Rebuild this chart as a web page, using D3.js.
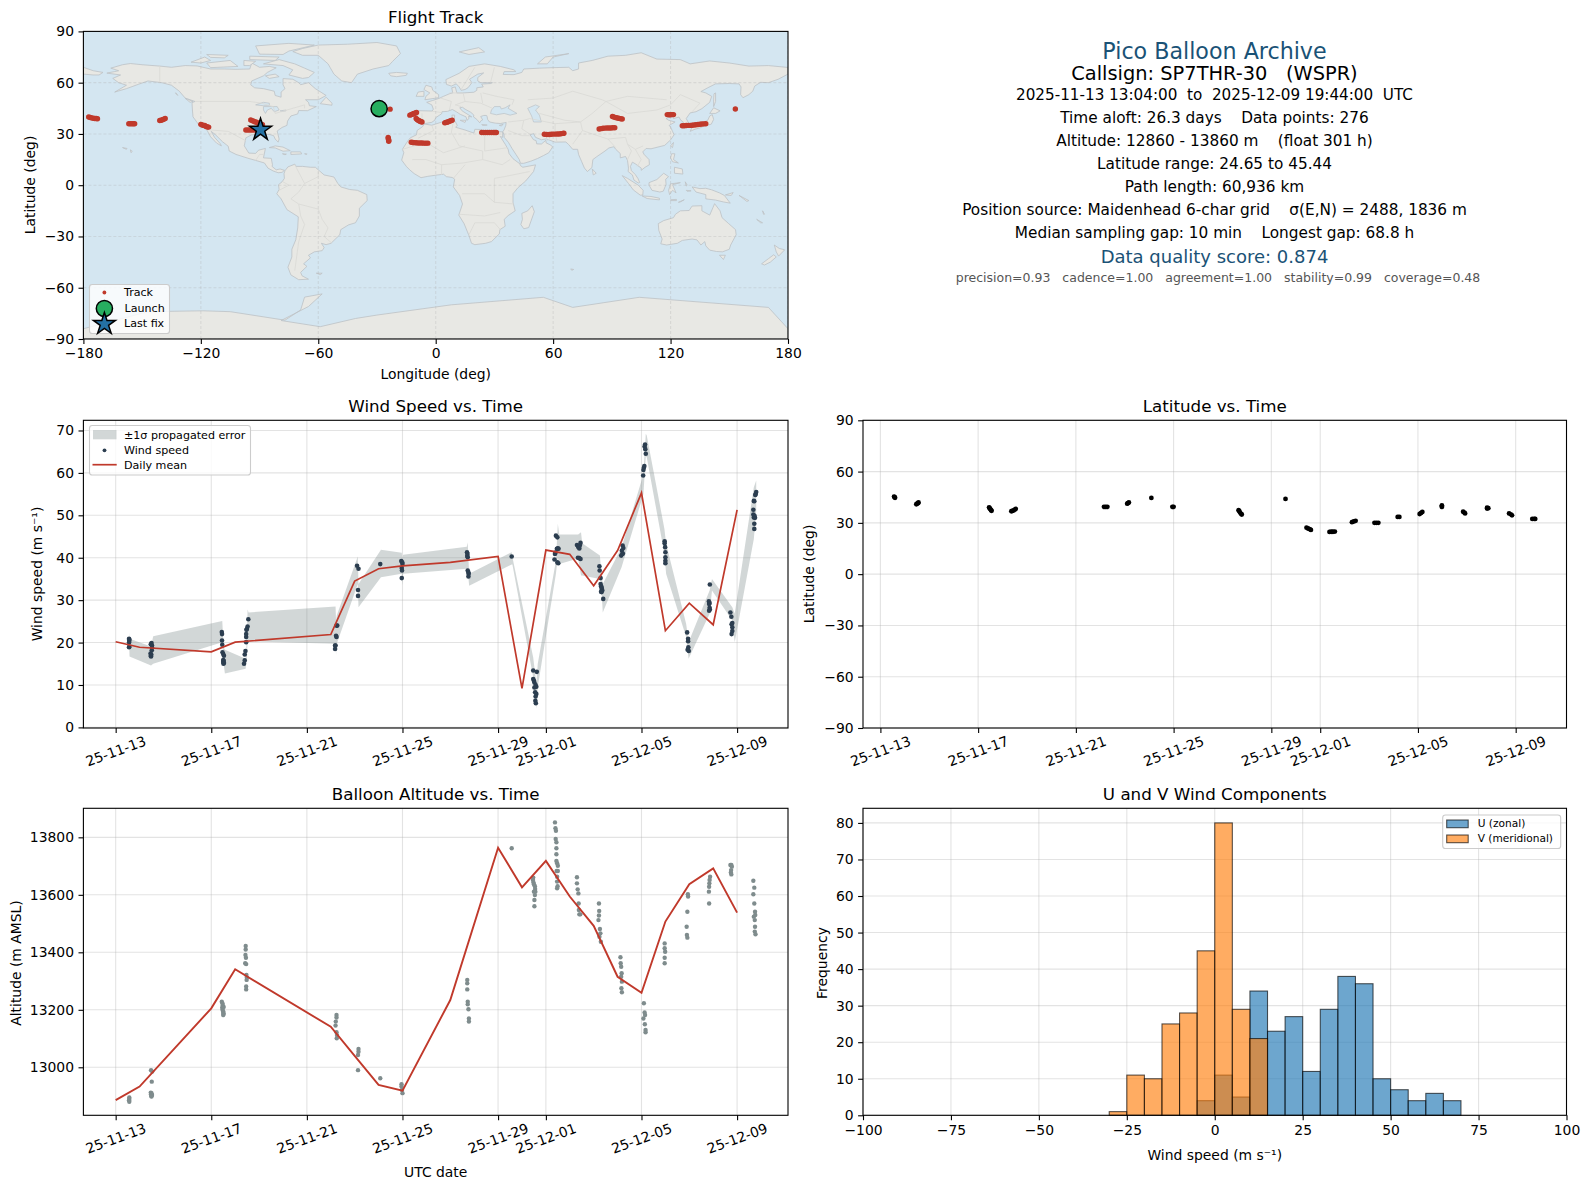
<!DOCTYPE html>
<html><head><meta charset="utf-8">
<script src="https://cdn.jsdelivr.net/npm/d3@7/dist/d3.min.js"></script>
<style>
html,body{margin:0;padding:0;background:#fff}
svg{display:block}
text{font-family:"DejaVu Sans",sans-serif;white-space:pre}
</style></head><body><svg id="c" width="1590" height="1189"></svg>
<script>
// ---------- tick labels ----------
const timeTickDates=["2025-11-13","2025-11-17","2025-11-21","2025-11-25","2025-11-29","2025-12-01","2025-12-05","2025-12-09"];
const lonTicks=[-180,-120,-60,0,60,120,180];
const latTicks=[-90,-60,-30,0,30,60,90];
const windTicks=[0,10,20,30,40,50,60,70];
const altTicks=[13000,13200,13400,13600,13800];
const histXTicks=[-100,-75,-50,-25,0,25,50,75,100];
const histYTicks=[0,10,20,30,40,50,60,70,80];

// ---------- series: values are [days after 2025-11-13 00:00 UTC, value] ----------
const windPoints=[[.56,20.9],[.57,20.7],[.57,20.4],[.56,20.0],[.56,18.9],[.57,19.0],
[1.50,19.9],[1.47,19.6],[1.52,19.3],[1.52,18.8],[1.51,18.2],[1.46,17.4],[1.49,17.2],[1.47,16.9],[1.48,16.7],
[4.44,22.5],[4.45,22.0],[4.45,20.5],[4.46,19.5],[4.47,17.7],[4.50,17.3],[4.53,16.9],[4.50,15.9],[4.52,15.7],[4.50,15.4],[4.53,15.2],[4.51,15.0],
[5.37,15],[5.40,15.8],[5.40,17.2],[5.43,18],[5.46,20.1],[5.46,21.3],[5.46,22],[5.49,23.2],[5.52,23.8],[5.47,23.0],[5.55,25.5],
[9.18,19.3],[9.18,18.5],[9.20,19.3],[9.24,24],[9.22,21.6],[9.24,21.3],[9.27,24],
[10.10,38.1],[10.16,37.4],[10.14,32.4],[10.14,31],
[11.07,38.5],
[11.95,39.2],[11.99,38.9],[12.0,38.5],[11.97,37.6],[11.98,37],[11.97,35.2],
[14.70,41.3],[14.72,40.9],[14.71,40.4],[14.73,40.1],[14.73,37],[14.76,36.5],[14.77,36.2],[14.76,35.6],
[16.57,40.3],
[17.47,13.4],[17.62,13.1],[17.47,11.4],[17.5,11.0],[17.52,10.6],[17.57,10.0],[17.6,9.6],[17.55,8.3],[17.6,7.9],[17.57,7.3],[17.56,6.3],[17.58,5.7],[17.52,9.4],
[18.42,45.2],[18.48,44.8],[18.46,42.1],[18.53,42.1],[18.50,42.2],[18.38,40.9],[18.40,41.2],[18.36,39.6],[18.52,38.7],[18.48,38.9],
[19.30,43],[19.36,42.5],[19.40,42.2],[19.42,42.9],[19.45,43.5],[19.34,40],[19.40,39.9],[19.45,39.7],
[20.24,38],[20.25,37],[20.29,35.2],[20.29,33.8],[20.31,33.3],[20.33,33],[20.34,32.6],[20.36,32.3],[20.31,32],[20.33,31.9],[20.40,30.3],
[21.21,42.9],[21.24,42.3],[21.18,41.7],[21.20,40.9],[21.15,40.5],[21.22,41],
[22.1,61.2],[22.12,61.6],[22.08,60.7],[22.07,59.4],[22.15,66.7],[22.13,66.2],[22.16,65.6],[22.18,64.5],
[22.97,43.9],[22.97,43.4],[22.99,42.5],[23,41.3],[23,40.1],[23,39.3],[23,38.7],
[23.91,22.4],[23.95,20.9],[23.95,20.3],[23.96,18.9],[23.93,18.3],[23.98,18.0],
[24.86,33.7],[24.82,29.7],[24.85,29.3],[24.83,29.1],[24.85,28.2],[24.83,27.5],[24.86,27.8],
[25.72,27.1],[25.76,26.1],[25.8,24.6],[25.77,24.3],[25.8,23.6],[25.8,22.7],[25.77,22],
[26.68,50.2],[26.70,49.5],[26.68,51.3],[26.70,53.4],[26.72,53.3],[26.78,55],[26.8,55.5],[26.76,54.8],[26.73,49.9],[26.75,49.4],[26.72,48],[26.72,46.8]];

const windMeanDays=[0,1,4,5,9,10,11,12,14,16,17,18,19,20,21,22,23,24,25,26];
const windMeanValues=[20.2,18.9,17.8,20.1,21.9,34.5,37.4,38.1,38.9,40.3,9.2,41.8,40.8,33.4,41.7,55.3,22.8,29.3,24.2,51.3];

// ±1σ envelope: day, low, high
const bandDays=[.56,.58,1.48,1.57,4.46,4.52,4.57,5.44,5.48,5.52,5.56,9.2,9.22,9.25,10.13,10.16,11.1,11.97,11.99,12.03,14.69,14.73,14.79,16.57,16.6,17.47,17.6,17.66,18.42,18.5,18.56,19.35,19.47,19.52,20.26,20.3,20.38,21.17,22.08,22.18,22.22,22.96,23.03,23.87,23.97,24.85,24.95,25.8,25.9,26.7,26.8];
const bandLow=[20.5,16.7,14.6,15,20.1,14.8,12.7,13.8,16.5,20.3,20.3,19.7,17.1,19.7,33.8,28.3,35.4,36.2,33.6,36.2,37.4,37.1,33.4,38.4,38.4,11.8,4.4,9.5,36.2,40.1,38.5,39.8,35.8,35.8,35,35,27.1,37.8,55,64,63.7,40.9,36.2,21.3,16.2,26.8,32.3,25.2,20.1,44.4,51.1];
const bandHigh=[22.4,20.9,19.1,21.5,25.1,18.9,18.3,16.2,19.7,27.8,27.1,28.5,25.2,26.4,40.3,33.8,41.9,41.2,39.7,40.7,42.6,43.6,36.2,41.3,40.1,16.5,10.3,15,39.3,48,45.5,45.5,46,43.4,40.5,37.8,33.8,42.5,59.7,69.2,68.8,46.8,43.3,24.4,20.1,32.3,35,28.3,26.8,56.6,58.2];

const altPoints=[[.57,12895],[.57,12890],[.56,12885],[.57,12880],
[1.48,12990],[1.53,12985],[1.51,12950],[1.47,12912],[1.5,12910],[1.48,12906],[1.52,12904],[1.49,12900],[1.5,12898],
[4.44,13228],[4.47,13222],[4.48,13215],[4.46,13208],[4.47,13200],[4.5,13195],[4.5,13190],[4.52,13186],[4.5,13182],[4.52,13210],
[5.44,13422],[5.44,13410],[5.43,13391],[5.45,13381],[5.42,13362],[5.46,13359],[5.47,13321],[5.49,13312],[5.48,13304],[5.46,13281],[5.46,13271],
[9.24,13182],[9.24,13173],[9.21,13159],[9.2,13145],[9.24,13122],[9.26,13112],[9.25,13101],
[10.16,13064],[10.16,13054],[10.14,13043],[10.14,12990],
[11.07,12962],
[11.96,12941],[11.96,12933],[11.98,12921],[12.0,12910],
[14.71,13304],[14.71,13292],[14.71,13271],[14.73,13228],[14.73,13219],[14.76,13202],[14.78,13170],[14.78,13159],
[16.57,13762],
[17.47,13660],[17.46,13652],[17.48,13643],[17.5,13637],[17.54,13630],[17.55,13620],[17.5,13611],[17.56,13611],[17.54,13599],[17.52,13582],[17.52,13560],
[18.38,13852],[18.4,13832],[18.42,13823],[18.41,13794],[18.44,13783],[18.44,13762],[18.44,13741],[18.44,13718],[18.47,13710],[18.5,13701],[18.45,13683],[18.5,13683],[18.47,13663],[18.47,13646],[18.47,13623],[18.49,13630],
[19.3,13661],[19.3,13640],[19.33,13619],[19.36,13605],[19.37,13570],[19.38,13547],[19.4,13532],[19.44,13532],
[20.22,13570],[20.23,13544],[20.22,13528],[20.2,13512],[20.26,13481],[20.28,13466],[20.24,13454],[20.3,13437],
[21.12,13383],[21.13,13362],[21.15,13350],[21.17,13327],[21.15,13315],[21.18,13298],[21.16,13275],[21.18,13261],
[22.1,13223],[22.13,13191],[22.15,13182],[22.08,13170],[22.14,13150],[22.17,13130],[22.17,13122],
[22.97,13431],[22.97,13414],[22.99,13402],[22.97,13381],[22.97,13362],
[23.94,13602],[23.95,13594],[23.92,13541],[23.89,13489],[23.9,13460],[23.92,13451],
[24.87,13663],[24.85,13652],[24.84,13640],[24.83,13628],[24.82,13611],[24.83,13570],
[25.72,13704],[25.76,13704],[25.78,13698],[25.75,13686],[25.74,13678],[25.76,13671],
[26.68,13649],[26.72,13625],[26.68,13602],[26.72,13570],[26.75,13541],[26.76,13530],[26.7,13524],[26.74,13512],[26.75,13489],[26.74,13472],[26.77,13463]];

const altMeanDays=[0,1,4,5,9,10,11,12,14,16,17,18,19,20,21,22,23,24,25,26];
const altMeanValues=[12886,12933,13205,13341,13141,13040,12939,12919,13234,13764,13626,13718,13594,13492,13315,13259,13507,13637,13692,13538];

const latPoints=[[.56,45.4],[.58,45.0],[.6,44.7],
[1.47,40.9],[1.5,41.2],[1.54,41.5],[1.56,41.9],
[4.45,39.1],[4.47,38.6],[4.5,38.0],[4.53,37.4],[4.55,37.1],
[5.36,36.8],[5.4,37.0],[5.45,37.3],[5.5,37.8],[5.54,38.2],
[9.15,39.4],[9.22,39.4],[9.29,39.4],
[10.1,41.2],[10.13,41.5],[10.17,41.9],
[11.09,44.6],
[11.95,39.4],[12.0,39.4],
[14.66,37.4],[14.69,36.8],[14.72,36.0],[14.76,35.3],[14.79,34.9],
[16.58,44.0],
[17.44,27.2],[17.5,26.7],[17.57,26.3],[17.62,25.9],
[18.38,24.7],[18.45,24.8],[18.52,24.8],[18.6,24.9],
[19.3,30.4],[19.37,30.8],[19.45,31.2],
[20.22,30],[20.3,30],[20.38,30],
[21.17,33.5],[21.24,33.5],
[22.07,35.2],[22.13,35.8],[22.18,36.4],
[22.98,39.8],[22.98,39.3],[22.98,40.2],
[23.85,36.5],[23.9,36],[23.93,35.5],
[24.83,38.9],[24.88,38.6],[24.83,38.4],
[25.73,35.5],[25.8,35],[25.85,34.4],
[26.68,32.3],[26.76,32.3],[26.8,32.3]];

const trackPoints=[[-177.3,39.9],[-176.5,39.6],[-175.8,39.4],[-175,39.2],[-174.2,39],[-173.5,39],[-172.8,38.9],
[-156.8,36],[-156,36],[-155.2,36],[-154.5,36],[-153.8,36],
[-141,37.9],[-140.3,38],[-139.6,38.3],[-139,38.6],[-138.2,39],
[-120,35.6],[-119.3,35.3],[-118.6,35],[-118,34.9],[-117.3,34.4],[-116.6,34.1],[-116,34],
[-94.5,38.2],[-93.8,37.8],[-93,37.4],[-92.2,37],[-91.5,36.8],[-90.7,36.3],[-90,36],[-89.2,35.7],[-88.5,35.4],
[-97,32.3],[-96,32.3],[-95,32.3],[-94,32.3],[-93,32.3],[-92,32.4],[-91,32.4],[-90.2,32.3],[-89.5,32.3],
[-23.3,44.5],
[-13.2,41],[-12.5,41.3],[-12,41.5],[-11.4,41.8],[-11,42],[-10.4,42.3],[-9.8,42.5],
[-10,39],[-9.5,38.5],[-9,38],[-8.5,37.7],[-8,37.4],[-7.5,37.2],[-7,37],
[-24.3,28],[-24.2,27.4],[-24.1,26.8],[-24,26.2],[-24,25.7],
[-12.5,25.1],[-11.7,25],[-11,24.9],[-10,24.8],[-9,24.7],[-8,24.7],[-7,24.7],[-6,24.6],[-5,24.6],[-4,24.6],
[4.6,36.5],[5.2,36.7],[5.8,36.9],[6.4,37.1],[7,37.4],[7.7,37.7],[8.4,38],
[23.5,30.8],[24.5,30.8],[25.5,30.8],[26.5,30.8],[27.5,30.8],[28.5,30.8],[29.5,30.8],[30.3,30.8],[31,30.8],
[55.5,29.8],[56.7,29.7],[58,29.7],[59,29.8],[60,29.9],[61,29.9],[62,30],[63,30],[64,30.1],[65,30.3],[65.5,30.4],
[83.5,32.9],[84.5,33.1],[85.5,33.3],[86.5,33.4],[87.5,33.5],[88.5,33.5],[89.5,33.5],[90.5,33.6],[91.5,33.6],
[90.3,40.2],[90.9,40],[91.5,39.7],[92.2,39.5],[93,39.3],[93.8,39.1],[94.5,38.9],[95.3,38.7],
[118.3,41.3],[119.2,41.2],[120,41.2],[120.8,41.3],[121.5,41.3],
[126,34.8],[127,34.8],[128,34.9],[129,35],[130,35],[131,35.1],[132,35.2],[133,35.4],[134,35.5],[135,35.7],[136,35.8],[137,35.9],[138,36],
[153.1,44.6]];
const launchPoint=[-28.9,44.8];
const lastFixPoint=[-89.5,32.4];

const histBinStart=-30, histBinWidth=5;
const uCounts=[0,0,0,0,0,4,11,5,34,23,27,12,29,38,36,10,7,4,6,4];
const vCounts=[1,11,10,25,28,45,80,29,21,0,0,0,0,0,0,0,0,0,0,0];

const infoLines=[
 ["Pico Balloon Archive",52,22.2,"#1a5276"],
 ["Callsign: SP7THR-30   (WSPR)",74.5,19.4,"#000"],
 ["2025-11-13 13:04:00  to  2025-12-09 19:44:00  UTC",95,15.2,"#000"],
 ["Time aloft: 26.3 days    Data points: 276",118,15.3,"#000"],
 ["Altitude: 12860 - 13860 m    (float 301 h)",141,15.3,"#000"],
 ["Latitude range: 24.65 to 45.44",164,15.3,"#000"],
 ["Path length: 60,936 km",187,15.3,"#000"],
 ["Position source: Maidenhead 6-char grid    σ(E,N) = 2488, 1836 m",210.5,15.3,"#000"],
 ["Median sampling gap: 10 min    Longest gap: 68.8 h",233.5,15.3,"#000"],
 ["Data quality score: 0.874",258,18,"#1a5276"],
 ["precision=0.93   cadence=1.00   agreement=1.00   stability=0.99   coverage=0.48",278.5,12.5,"#555"]];

// ---------- map outlines, lon/lat ----------
const landPolygons=[
[[-168,65.6],[-164,66.5],[-162,67],[-166,68.5],[-160,70.5],[-156,71.2],[-150,70.5],[-141,69.7],[-135,69],[-128,70],[-122,69.8],[-115,68],[-108,68],[-102,67.8],[-95,68],[-94,71.5],[-90,69],[-85,69.5],[-81.5,68.7],[-86,66],[-88,64],[-94,61],[-94.5,58.7],[-92.5,57],[-88,56.5],[-82.5,55],[-82,52.5],[-79,51.5],[-79,54.5],[-77,56.5],[-78,58.8],[-78,62.4],[-73,62],[-70,60],[-69,58.8],[-65,60],[-61.5,56.5],[-56,52.5],[-60,50],[-66.5,50],[-65,48.5],[-64.5,46.5],[-61,46],[-65.5,43.6],[-70,43.7],[-70.5,41.7],[-74,40.5],[-75.7,37.5],[-76,35],[-78.5,33.8],[-81,31.7],[-80,27],[-80.5,25.2],[-82,27],[-82.8,29],[-85,29.7],[-89,30],[-91.5,29.5],[-94,29.5],[-97,27.7],[-97.8,23],[-95.5,18.8],[-92,18.6],[-90.5,20.5],[-87,21.5],[-88,16],[-84,15.7],[-83.4,12],[-83.6,11],[-81.5,9],[-79.5,9.5],[-77.3,8.7],[-78.5,7.5],[-80.5,7.3],[-83,8.3],[-85.7,10],[-87.5,13],[-92,14.5],[-96,15.8],[-102,18],[-105.5,20],[-106,22.8],[-109,25.5],[-112.5,29.5],[-114.7,31.5],[-113,28],[-110,24.2],[-109.5,23],[-112,24.7],[-115,28.3],[-117,32.5],[-120.5,34.5],[-124,40],[-124.3,44],[-124.5,48.3],[-123,49],[-128,51],[-131,55],[-135,58.5],[-140,60],[-147,61],[-152,59],[-158,56.5],[-164,54.5],[-158,58.5],[-162,60],[-165,62.5],[-161,64.5]],
[[-73,78.2],[-68,80],[-60,82],[-45,82.5],[-30,83.5],[-20,81.5],[-18,77],[-22,72.5],[-24,70],[-32,68],[-40,65],[-43,60],[-48,61],[-52,65],[-54,69],[-55,71],[-60,76],[-68,76]],
[[-80,73.5],[-72,71],[-67,68.5],[-62,66],[-65,63],[-68,62.5],[-75,64.5],[-73,67.5],[-78,70],[-88,71]],
[[-117,71.5],[-105,73],[-101,69.5],[-115,68.8]],
[[-90,76.7],[-78,76.5],[-75,78.5],[-62,82],[-75,83],[-92,81.5]],
[[-125,72],[-118,75],[-115,73],[-120,71.5]],
[[-95,75.5],[-80,75],[-82,73],[-95,73.5]],
[[-117,76.5],[-106,76],[-108,74.5],[-115,74.8]],
[[-98,73],[-92,72.5],[-95,70],[-98,70]],[[-82,65],[-80,63.5],[-85,62.5],[-87,64]],
[[-59,47.7],[-56,51.5],[-53,48],[-53,46.8]],
[[-85,22],[-82,23],[-78,22.3],[-74.3,20.2],[-78,19.9],[-82,21.8]],
[[-74,19.5],[-69,19.5],[-68.5,18.3],[-74,18]],[[-78.3,18.4],[-76.3,18.2],[-77,17.8]],[[-67,18.4],[-65.7,18.3],[-66,18]],
[[-128,50.8],[-124,49],[-125.5,48.5]],[[-133,54],[-131.8,52.5],[-132.5,53.8]],
[[-24,65.5],[-20,66],[-14.5,65.5],[-15,64.3],[-20,63.5],[-23,64]],
[[-5.5,50],[1.5,51.2],[1.5,53],[-1.5,55.5],[-2,57.5],[-5,58.5],[-6,56],[-3,54],[-5,52]],
[[-10,52],[-6,52],[-6,55],[-9,54.5]],
[[-77,8.5],[-75.5,10.7],[-72,12.3],[-71.3,11],[-68,11],[-64,10.5],[-61.5,10.5],[-57,6],[-52,4.8],[-50,1],[-48.5,-1],[-44,-2.5],[-40,-3],[-35.2,-5.5],[-35,-9],[-39,-13.5],[-39,-18],[-41,-22],[-44.5,-23.2],[-48.5,-26],[-49,-29],[-53.5,-34],[-56,-34.8],[-58.4,-34],[-57,-36.5],[-58,-38.3],[-62,-39],[-65,-41],[-64,-42.5],[-67.5,-46],[-65.8,-47.5],[-69,-51],[-68.3,-53],[-65,-55],[-70,-55.3],[-74,-52.5],[-75.5,-48],[-73.5,-42],[-73.5,-37.5],[-71.5,-32],[-70.5,-25],[-70.2,-18.5],[-76,-14.3],[-79,-8],[-81.2,-5],[-80,-2.5],[-80.3,0.3],[-78.5,2],[-77.3,4],[-77.5,6.7]],
[[-5.8,35.8],[-2,35.1],[3,36.9],[10,37.3],[11,35],[10.2,33.9],[15,32.3],[19.5,30.5],[20,32.7],[23,32.6],[25.3,31.6],[29,30.9],[32.3,31.3],[34.2,31.2],[34.2,28],[33,28.5],[35.5,24],[37,21],[37.5,18.5],[39.5,15.5],[43,12.5],[43.3,11.5],[44.5,10.5],[51,11.9],[50,8],[46,2.5],[42,-1.5],[39.5,-5],[39.5,-10],[40.6,-15],[37,-17.8],[35,-20],[35.5,-24],[32.8,-26],[32.5,-28.5],[28.5,-33],[25.5,-34],[20,-34.8],[18.3,-34],[17,-29.5],[14.5,-22.5],[11.8,-17.5],[13.7,-11],[12.2,-6],[9,-1],[9.7,3.5],[8.5,4.5],[5.5,5],[4,6.4],[1,6],[-4,5.2],[-7.5,4.4],[-11,6.8],[-13.3,9],[-15,11],[-17.4,14.7],[-16.3,19],[-17,21],[-14.8,25],[-13,27.7],[-9.8,29.5],[-9.5,32],[-6.8,34.2]],
[[49.3,-12],[50.4,-15.5],[47.5,-24.8],[45,-25.5],[43.5,-23],[44.3,-20],[44,-16.5],[47,-15]],
[[-9,37],[-7.5,37],[-6,36.2],[-5.3,36.1],[-2,36.8],[-0.5,38],[0,39.5],[3,41.8],[3.2,43],[6,43.2],[8.5,44.3],[10.5,43],[12.5,41.5],[15.5,40],[16,38],[17,39],[16.8,40.3],[18.4,40],[16,41.7],[13.5,43.5],[12.3,45.3],[13.7,45.6],[15,44.5],[18,42.6],[19.5,41],[19.3,40],[21,38.5],[22.5,36.5],[23.2,37.8],[24,38.2],[23,40.2],[24.5,40.8],[26,40.8],[26.3,40],[26.5,38.5],[27.5,37],[30.5,36.3],[33,36.1],[36,36.7],[35.8,35],[35,32.5],[34.3,31.3],[34.9,29.5],[35,28],[37.2,25],[39,21.5],[41,18],[42.7,15],[43.3,12.8],[45,12.8],[48.5,14],[52,15.6],[55,17.3],[57.8,19],[59.8,22.5],[58.5,23.6],[56.4,24.8],[56.3,26.3],[55.3,25.3],[54,24.1],[51.6,24.2],[51.3,26.1],[50,26.6],[48.2,29.5],[50,30.2],[51,28],[54,26.6],[56.5,27.1],[61,25.2],[66.5,25.3],[68,23.7],[70,21],[72.5,21],[73,18],[74.5,14],[76,10],[77.5,8],[79.8,10.3],[80.3,15],[82.3,16.7],[86.5,20],[88.5,21.8],[91,22.5],[92,21],[94.3,18.5],[94.3,16],[97,16.8],[98,14.5],[98.5,10],[98.3,8],[100.5,6],[101.3,3],[103.5,1.3],[104.2,1.6],[103.3,4],[102,6.2],[100,8.5],[99.5,11],[100.5,13.5],[102,12.5],[105,10],[105,8.7],[107,10.5],[109.2,12],[109,15],[106.5,18],[105.8,19.5],[107.5,21.5],[110,21.3],[113.5,22.3],[117,23.3],[120,26.5],[121.8,29.5],[121,31.5],[120,34],[119.3,35],[122.3,37],[119,38],[117.7,39],[121,40.8],[121.5,39],[124.3,39.9],[125.2,38],[126.5,37],[126.3,34.7],[128.5,35],[129.4,36],[128,39],[130,42.3],[133,43],[136,44.8],[140,48.5],[141,52],[138,54],[135.5,54.8],[139,57],[143,59.3],[150,59.5],[155,59.3],[156,57.5],[155.8,53],[157,51.2],[160,53],[162,55],[163,58],[166,60.2],[170,60],[175,62],[180,65],[180,68.9],[170,70],[160,69.7],[150,71.5],[140,72.7],[130,71],[125,73.5],[113,73.8],[105,77.5],[97,76],[88,75.5],[80,73],[73,71.5],[73,68],[70,67],[68,69],[60,68.8],[53,68.5],[45,68],[44,66],[40,64.7],[34.5,64.8],[35,66.5],[41,66.5],[40,67.5],[33,69.5],[25,71],[17,69.5],[12,65.5],[5.2,61.8],[5.5,59],[8,58],[10.5,59.3],[12,57.5],[13,55.5],[15,56],[16.5,57],[18.5,60],[17.3,62],[21.5,65],[24.5,65.7],[21.5,63],[21.5,61],[23,60],[29,60],[28,59.5],[23.5,59.2],[24.3,57.5],[21,57],[21,55.5],[19.5,54.4],[14,54],[10.8,54],[10,57.5],[8.2,57],[8.7,54],[7,53.5],[4,52],[1.7,50.8],[-1.5,49.6],[-4.6,48.5],[-2,47],[-1.2,44.5],[-1.8,43.4],[-8.5,43.6],[-9.3,41],[-9.5,38.7]],
[[-180,65],[-175,64.5],[-172,64.5],[-170,66],[-175,67],[-180,69]],
[[113.7,-22.5],[116.5,-20.7],[121.5,-19],[122.5,-17],[125,-15],[129.5,-14.8],[131,-12.2],[136,-12],[136,-15],[140,-17.5],[141.7,-13],[142.5,-10.8],[145.3,-15],[146.3,-19],[149.5,-22.3],[153.2,-26],[153.5,-29],[150.7,-35],[150,-37.5],[146.5,-39],[143.5,-38.8],[140,-38],[138,-35.5],[137.5,-33],[135.5,-35],[133.5,-32],[131,-31.5],[126,-32.3],[123.5,-34],[118,-35],[115,-34.3],[115.7,-31.5],[114,-26.5]],
[[173,-35],[175.5,-37],[178.3,-37.8],[175.2,-41.5],[174,-39]],[[172.7,-40.7],[174,-42],[171,-45],[168,-46.7],[166.5,-46],[170,-43]],[[145,-41],[148,-41],[147,-43.5]],
[[131,-1],[135,-2],[138,-1.8],[141,-2.7],[145,-4.5],[147.5,-6],[150.5,-10.5],[147,-9.8],[143,-8.7],[138,-8],[138,-5.5],[133,-4]],
[[109,1.5],[113,3.3],[116.5,7],[119,5],[117.5,3.5],[117.7,.5],[116.3,-3.5],[114.5,-4],[110.5,-3],[109,0]],
[[95.3,5.6],[98,4],[103.5,0],[106,-3],[105.8,-5.8],[104.5,-5.8],[101,-2.8],[98.5,1]],
[[105.5,-6.3],[110,-6.6],[114.3,-7.6],[114.3,-8.6],[108,-7.8]],
[[119.5,-5.5],[119,-3],[120,.8],[125,1.5],[121,.3],[122.8,-4.5],[121,-3]],
[[120.5,18.4],[122.2,18.4],[121.5,15],[124,13],[121,13.7],[120,16]],[[122,10.5],[126,9.5],[126.3,6.5],[122,7]],
[[130,31.5],[131,33.8],[133,35.3],[136,36.3],[139,38],[140,40.5],[141.3,41.3],[142,38.5],[140.8,35.7],[137,34.6],[135,33.5],[132.5,32.8]],[[140,42],[142,45.3],[145.3,43.5],[143,42]],
[[142,46],[143,49],[143,54],[142.2,53.5],[142,50]],[[120,23],[121.5,25],[121,22]],[[80,9.5],[82,7],[80.5,6]],
[[12,78],[22,80.5],[25,78],[17,76.5]],[[52,71],[56,75],[68,77],[60,75],[57,71]],[[12.5,38],[15.5,38],[15,36.7]],
[[8.3,41],[9.7,41],[9.5,39],[8.5,39]],[[23.5,35.5],[26.3,35.2],[24,35]],[[32.5,35],[34.5,35.6],[33.5,34.7]],
[[-61,-51.5],[-58,-51.5],[-59,-52.3]],[[69,-49],[70.5,-49.3],[69.5,-49.8]],
[[120,-8.5],[123,-8.3],[123,-9],[120,-9]],[[124,-10],[127,-8.5],[125,-9.8]],[[148,-5.7],[152,-4.3],[151,-6]],[[155,-6],[160,-9],[159,-9.5]],[[167,-15],[168,-17],[167.5,-17]],[[164,-20],[167,-22],[166,-22]],[[127.5,2],[128.5,0],[128,-.5]],[[128,-3],[130.5,-3.3],[128.5,-3.6]],
[[-160,22],[-157.7,21.5],[-158,21]],[[-156,20.7],[-155,19.8],[-155.7,19]],
[[-180,-84],[-147,-74],[-119,-73.5],[-105,-74],[-77,-79],[-69,-73],[-67,-65.5],[-58,-63.6],[-65,-71],[-79,-79.2],[-59,-82.8],[-41,-78],[-30,-76],[8,-70],[55,-65.6],[70,-71.5],[104,-65.6],[170,-71.5],[180,-84],[180,-90],[-180,-90]]];
const waterPolygons=[
[[28,42],[28.5,44],[30,46],[33,46],[33.5,44.6],[35.5,45.3],[38,47],[37,45],[41.5,42],[38,41],[35,42],[31,41.2]],
[[47,45],[51,47],[53,46],[51,44],[53,41],[54,37],[50,37],[49,40.5]],
[[-92,47],[-88,48.5],[-85,48],[-85,46.5],[-88,46.5]],
[[-88,46],[-84,46],[-81,46],[-80,44],[-82.5,43],[-84,45],[-86,44],[-87,42],[-88,44]],
[[-79.5,43.5],[-76.5,44],[-76.5,43.5],[-79,43.2]]];
const borderLines=[
[[-123,49],[-95,49],[-89,48],[-83,46],[-82,42],[-76,44],[-70,46],[-67,47],[-67,45]],[[-141,70],[-141,60]],[[-117,32.5],[-106,31.5],[-97,26]],[[-92,14.5],[-90,18],[-88,18]],
[[-72,12],[-67,1],[-70,-4],[-74,-8],[-70,-11],[-69,-18]],[[-60,8],[-60,5],[-67,1]],[[-70,-11],[-60,-14],[-58,-20],[-55,-25],[-57,-30],[-53,-34]],[[-69,-18],[-67,-23],[-70,-33],[-72,-50]],[[-80,-3],[-75,0],[-78,2]],
[[-9,27.5],[-1,32],[-2,35]],[[9,37],[8,31],[12,23],[24,20]],[[25,32],[25,20],[37,22]],[[-17,21],[-5,25],[4,19],[15,23]],[[-12,15],[-5,15],[3,12],[14,13],[24,15],[24,20]],[[24,15],[34,12],[38,15]],[[3,12],[3,6]],[[9,4],[15,12]],[[13.5,-5],[25,-5],[30,-10],[40,-11]],[[30,-10],[30,4],[35,5],[48,8]],[[12,-17],[25,-18],[33,-16]],[[17,-29],[20,-22],[30,-22],[33,-26]],
[[-1.8,43.3],[3,42.5]],[[-7,42],[-7,37]],[[2.5,51],[8,49],[7,44]],[[7,54],[14,54],[15,49],[10,47],[13,46]],[[15,49],[23,48],[29,45]],[[23,54],[24,48]],[[24,54],[31,52],[40,50],[39,47]],[[28,60],[30,69]],[[13,56],[20,69]],
[[37,37],[45,38],[44,33],[48,30]],[[37,32],[44,29],[48,29]],[[45,38],[48,39],[61,36],[61,31],[57,26]],[[61,31],[62,25]],[[61,36],[74,37],[75,32],[70,24]],[[47,50],[60,51],[70,55],[85,50],[87,49]],[[53,42],[66,38],[74,37]],[[80,42],[74,37]],[[80,42],[87,49],[98,42],[113,44],[120,47],[125,53],[135,48],[131,43]],[[87,49],[98,52],[118,50]],[[75,32],[80,30],[88,27],[97,28],[98,24],[102,21],[106,23]],[[88,27],[92,22]],[[98,24],[100,20],[98,15]],[[102,21],[105,15],[103,11]]];

// ---------- helpers ----------
const svg=d3.select("#c").attr("fill","#000");
const day0=Date.UTC(2025,10,13);
const toDate=d=>new Date(day0+d*864e5);
const font=13.9, tickLen=4.9, gridCol="#b0b0b0", gridOp=.35;
const timeDomainMean=[toDate(-1.35),toDate(28.13)];
const timeDomainLat=[toDate(-.712),toDate(28.08)];
const tickFmt=d3.utcFormat("%y-%m-%d");
const timeTicks=timeTickDates.map(s=>new Date(s+"T00:00:00Z"));

function panel(b,title){
  const g=svg.append("g");
  svg.append("text").attr("x",(b.l+b.r)/2).attr("y",b.t-8).attr("text-anchor","middle").attr("font-size",16.7).text(title);
  return g;
}
function grid(g,x,y,xt,yt,op,dash){
  xt.forEach(t=>g.append("line").attr("x1",x(t)).attr("x2",x(t)).attr("y1",y.range()[0]).attr("y2",y.range()[1]).attr("stroke",gridCol).attr("stroke-opacity",op).attr("stroke-width",1.1).attr("stroke-dasharray",dash||null));
  yt.forEach(t=>g.append("line").attr("y1",y(t)).attr("y2",y(t)).attr("x1",x.range()[0]).attr("x2",x.range()[1]).attr("stroke",gridCol).attr("stroke-opacity",op).attr("stroke-width",1.1).attr("stroke-dasharray",dash||null));
}
function axes(b,x,y,xt,yt,xf,rot){
  const ax=svg.append("g").attr("transform",`translate(0,${b.b})`).call(d3.axisBottom(x).tickValues(xt).tickSize(tickLen).tickPadding(4.5).tickFormat(xf));
  const ay=svg.append("g").attr("transform",`translate(${b.l},0)`).call(d3.axisLeft(y).tickValues(yt).tickSize(tickLen).tickPadding(4.5).tickFormat(d=>String(d).replace("-","\u2212")));
  [ax,ay].forEach(a=>{a.select(".domain").remove();a.selectAll("text").attr("font-size",font).attr("font-family",'"DejaVu Sans"').attr("fill","#000");a.selectAll("line").attr("stroke","#000").attr("stroke-width",1.1);});
  if(rot){ax.selectAll("text").attr("text-anchor","middle").attr("y",0).attr("dy",0).attr("transform","translate(0,24) rotate(-20)").attr("dominant-baseline","middle");}
  svg.append("rect").attr("x",b.l).attr("y",b.t).attr("width",b.r-b.l).attr("height",b.b-b.t).attr("fill","none").attr("stroke","#000").attr("stroke-width",1.1);
}
function ylab(x,yc,s){svg.append("text").attr("transform",`translate(${x},${yc}) rotate(-90)`).attr("text-anchor","middle").attr("font-size",font).text(s);}
function xlab(xc,y,s){svg.append("text").attr("x",xc).attr("y",y).attr("text-anchor","middle").attr("font-size",font).text(s);}
function clip(id,b){svg.append("clipPath").attr("id",id).append("rect").attr("x",b.l).attr("y",b.t).attr("width",b.r-b.l).attr("height",b.b-b.t);}
function legendBox(x,y,w,h){return svg.append("rect").attr("x",x).attr("y",y).attr("width",w).attr("height",h).attr("rx",2.8).attr("fill","#fff").attr("fill-opacity",.8).attr("stroke","#ccc").attr("stroke-width",1.1);}
function legText(x,y,s){svg.append("text").attr("x",x).attr("y",y).attr("font-size",11.1).attr("dominant-baseline","middle").text(s);}
const star=d3.symbol().type(d3.symbolStar);

// ---------- 1: map ----------
{
  const b={l:83.4,r:788,t:31.4,b:339};
  const g=panel(b,"Flight Track");clip("m",b);
  const x=d3.scaleLinear().domain([-180,180]).range([b.l,b.r]);
  const y=d3.scaleLinear().domain([-90,90]).range([b.b,b.t]);
  const L=d3.line().x(d=>x(d[0])).y(d=>y(d[1]));
  g.append("rect").attr("x",b.l).attr("y",b.t).attr("width",b.r-b.l).attr("height",b.b-b.t).attr("fill","#d4e6f1");
  const m=g.append("g").attr("clip-path","url(#m)");
  m.selectAll(".land").data(landPolygons).join("path").attr("d",d=>L(d)+"Z").attr("fill","#e8e8e4").attr("stroke","#bcc2c5").attr("stroke-width",.8).attr("stroke-linejoin","round");
  m.selectAll(".wat").data(waterPolygons).join("path").attr("d",d=>L(d)+"Z").attr("fill","#d4e6f1").attr("stroke","#bcc2c5").attr("stroke-width",.7);
  m.selectAll(".bor").data(borderLines).join("path").attr("d",L).attr("fill","none").attr("stroke","#d9d9d5").attr("stroke-width",.8);
  grid(m,x,y,lonTicks,latTicks,.3,"3,2");
  m.selectAll(".t").data(trackPoints).join("circle").attr("cx",d=>x(d[0])).attr("cy",d=>y(d[1])).attr("r",2.7).attr("fill","#c0392b");
  m.append("circle").attr("cx",x(launchPoint[0])).attr("cy",y(launchPoint[1])).attr("r",8.1).attr("fill","#27ae60").attr("stroke","#000").attr("stroke-width",1.5);
  m.append("path").attr("d",star.size(150)()).attr("transform",`translate(${x(lastFixPoint[0])},${y(lastFixPoint[1])})`).attr("fill","#2471a3").attr("stroke","#000").attr("stroke-width",1.5);
  axes(b,x,y,lonTicks,latTicks,d=>String(d).replace("-","\u2212"));
  xlab((b.l+b.r)/2,379,"Longitude (deg)");ylab(35,185,"Latitude (deg)");
  legendBox(89.5,284.5,80,49);
  svg.append("circle").attr("cx",104.4).attr("cy",292.5).attr("r",1.9).attr("fill","#c0392b");
  svg.append("circle").attr("cx",104.4).attr("cy",308.5).attr("r",8.1).attr("fill","#27ae60").attr("stroke","#000").attr("stroke-width",1.5);
  svg.append("path").attr("d",star.size(150)()).attr("transform","translate(104.4,324)").attr("fill","#2471a3").attr("stroke","#000").attr("stroke-width",1.5);
  legText(124,292.8,"Track");legText(124.5,308.8,"Launch");legText(124,324,"Last fix");
}
// ---------- 2: info ----------
infoLines.forEach((l,i)=>svg.append("text").attr("x",i===infoLines.length-1?1218:1214.5).attr("y",l[1]).attr("text-anchor","middle").attr("dominant-baseline","middle").attr("font-size",l[2]).attr("fill",l[3]).text(l[0]));

// ---------- 3: wind ----------
{
  const b={l:83.4,r:788,t:420.3,b:728};
  const g=panel(b,"Wind Speed vs. Time");
  const x=d3.scaleUtc().domain(timeDomainMean).range([b.l,b.r]);
  const y=d3.scaleLinear().domain([0,72.4]).range([727.4,b.t]);
  grid(g,x,y,timeTicks,windTicks,gridOp);
  const band=d3.area().x((d,i)=>x(toDate(bandDays[i]))).y0((d,i)=>y(bandLow[i])).y1((d,i)=>y(bandHigh[i]));
  g.append("path").attr("d",band(bandDays)).attr("fill","#7f8c8d").attr("fill-opacity",.35);
  g.selectAll(".p").data(windPoints).join("circle").attr("cx",d=>x(toDate(d[0]))).attr("cy",d=>y(d[1])).attr("r",2.3).attr("fill","#2c3e50");
  g.append("path").attr("d",d3.line().x((d,i)=>x(toDate(windMeanDays[i]))).y(d=>y(d))(windMeanValues)).attr("fill","none").attr("stroke","#c0392b").attr("stroke-width",1.7);
  axes(b,x,y,timeTicks,windTicks,tickFmt,true);
  ylab(42,574,"Wind speed (m s\u207B\u00B9)");
  legendBox(89.5,425.5,161,49.5);
  svg.append("rect").attr("x",93).attr("y",430).attr("width",23.5).attr("height",9.3).attr("fill","#7f8c8d").attr("fill-opacity",.35);
  svg.append("circle").attr("cx",104.5).attr("cy",450.3).attr("r",1.9).attr("fill","#2c3e50");
  svg.append("line").attr("x1",92.5).attr("x2",116.7).attr("y1",464.7).attr("y2",464.7).attr("stroke","#c0392b").attr("stroke-width",1.7);
  legText(124,435.6,"\u00B11\u03C3 propagated error");legText(124,450.6,"Wind speed");legText(124,466.3,"Daily mean");
}
// ---------- 4: latitude ----------
{
  const b={l:863,r:1566.5,t:420.3,b:728};
  const g=panel(b,"Latitude vs. Time");
  const x=d3.scaleUtc().domain(timeDomainLat).range([b.l,b.r]);
  const y=d3.scaleLinear().domain([-90,90]).range([b.b,b.t]);
  grid(g,x,y,timeTicks,latTicks,gridOp);
  g.selectAll(".p").data(latPoints).join("circle").attr("cx",d=>x(toDate(d[0]))).attr("cy",d=>y(d[1])).attr("r",2.4).attr("fill","#000");
  axes(b,x,y,timeTicks,latTicks,tickFmt,true);
  ylab(814,574,"Latitude (deg)");
}
// ---------- 5: altitude ----------
{
  const b={l:83.4,r:788,t:808.3,b:1115.3};
  const g=panel(b,"Balloon Altitude vs. Time");
  const x=d3.scaleUtc().domain(timeDomainMean).range([b.l,b.r]);
  const y=d3.scaleLinear().domain([12833,13901]).range([b.b,b.t]);
  grid(g,x,y,timeTicks,altTicks,gridOp);
  g.selectAll(".p").data(altPoints).join("circle").attr("cx",d=>x(toDate(d[0]))).attr("cy",d=>y(d[1])).attr("r",2.2).attr("fill","#7f8c8d");
  g.append("path").attr("d",d3.line().x((d,i)=>x(toDate(altMeanDays[i]))).y(d=>y(d))(altMeanValues)).attr("fill","none").attr("stroke","#c0392b").attr("stroke-width",1.9);
  axes(b,x,y,timeTicks,altTicks,tickFmt,true);
  ylab(20.5,963,"Altitude (m AMSL)");
  xlab((b.l+b.r)/2,1177,"UTC date");
}
// ---------- 6: histogram ----------
{
  const b={l:863,r:1566.5,t:808.3,b:1115.3};
  const g=panel(b,"U and V Wind Components");
  const x=d3.scaleLinear().domain([-100,100]).range([b.l,b.r]);
  const y=d3.scaleLinear().domain([0,84]).range([b.b,b.t]);
  grid(g,x,y,histXTicks,histYTicks,gridOp);
  const draw=(counts,c)=>g.selectAll(".x"+c.slice(1)).data(counts.map((n,i)=>({n,i})).filter(d=>d.n>0)).join("rect")
    .attr("x",d=>x(histBinStart+d.i*histBinWidth)).attr("width",d=>x(histBinStart+(d.i+1)*histBinWidth)-x(histBinStart+d.i*histBinWidth))
    .attr("y",d=>y(d.n)).attr("height",d=>y(0)-y(d.n)).attr("fill",c).attr("fill-opacity",.65).attr("stroke","#000").attr("stroke-opacity",.65).attr("stroke-width",1.1);
  draw(uCounts,"#1f77b4");draw(vCounts,"#ff7f0e");
  axes(b,x,y,histXTicks,histYTicks,d=>String(d).replace("-","\u2212"));
  ylab(827,963,"Frequency");xlab((b.l+b.r)/2,1160,"Wind speed (m s\u207B\u00B9)");
  legendBox(1442.7,815,118,33.5);
  [["#1f77b4","U (zonal)",820],["#ff7f0e","V (meridional)",835]].forEach(r=>{
    svg.append("rect").attr("x",1446.7).attr("y",r[2]).attr("width",21.5).attr("height",7.7).attr("fill",r[0]).attr("fill-opacity",.65).attr("stroke","#000").attr("stroke-opacity",.65).attr("stroke-width",1.1);
    svg.append("text").attr("x",1477.7).attr("y",r[2]+4.2).attr("font-size",10.6).attr("dominant-baseline","middle").text(r[1]);
  });
}
</script></body></html>
